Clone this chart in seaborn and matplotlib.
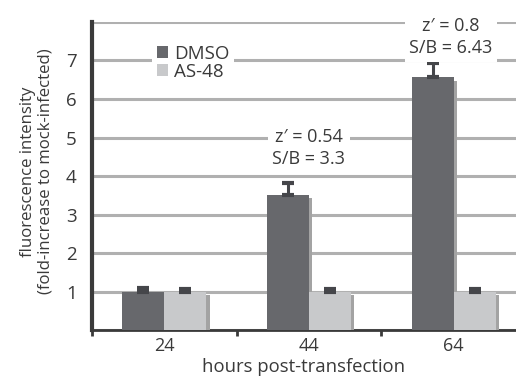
import pandas as pd
import matplotlib.pyplot as plt
import matplotlib.patheffects as pe
import seaborn as sns

# valores
hours = ['24', '44', '64']
dmso = [1.0, 3.5, 6.56]
dmso_err = [0.1, 0.32, 0.38]
as48 = [1.0, 1.0, 1.0]
as48_err = [0.08, 0.08, 0.08]
notes = ['', "z\u2032 = 0.54\nS/B = 3.3", "z\u2032 = 0.8\nS/B = 6.43"]
note_y = [0, 4.73, 7.6]

df = pd.DataFrame({
    'hours': hours * 2,
    'valor': dmso + as48,
    'grupo': ['DMSO'] * 3 + ['AS-48'] * 3,
})

sns.set_style('white')
plt.rcParams['font.family'] = ['Open Sans', 'DejaVu Sans']
cor_txt = '#3a3a3a'

fig = plt.figure(figsize=(5.16, 3.79), dpi=100)
ax = fig.add_axes([0.178, 0.129, 0.822, 0.813])

sns.barplot(data=df, x='hours', y='valor', hue='grupo', order=hours,
            hue_order=['DMSO', 'AS-48'], palette=['#67686c', '#c8c9cb'],
            width=0.58, saturation=1, errorbar=None, ax=ax, zorder=3)

sombra = [pe.SimplePatchShadow(offset=(2.4, -2.2), shadow_rgbFace='#a3a3a3', alpha=1), pe.Normal()]
for p in ax.patches:
    p.set_path_effects(sombra)
    p.set_linewidth(0)

# barras de erro só para cima
n = len(hours)
for i, (vals, errs) in enumerate([(dmso, dmso_err), (as48, as48_err)]):
    xs = [p.get_x() + p.get_width() / 2 for p in ax.patches[i * n:(i + 1) * n]]
    ax.errorbar(xs, vals, yerr=[[0] * n, errs], fmt='none', ecolor='#45464a',
                elinewidth=2.2, capsize=4, capthick=3, zorder=4)

ax.set_ylim(0, 8)
ax.set_xlim(-0.5, 2.43)
ax.set_yticks(range(0, 9))
ax.set_yticklabels([''] + [str(v) for v in range(1, 8)] + [''])
ax.yaxis.grid(True, color='#b0b0b0', linewidth=2.2, zorder=0)
ax.set_axisbelow(True)

ax.set_xticks([0, 1, 2])
ax.set_xticklabels(hours)
ax.set_xticks([-0.5, 0.5, 1.5], minor=True)
ax.tick_params(axis='x', which='major', length=0, labelsize=13, labelcolor=cor_txt, pad=5)
ax.tick_params(axis='x', which='minor', length=4, width=2, color=cor_txt, direction='out', bottom=True)
ax.tick_params(axis='y', length=4, width=2.5, color=cor_txt, labelsize=13.5, labelcolor=cor_txt, pad=7)

for s in ['top', 'right']:
    ax.spines[s].set_visible(False)
ax.spines['left'].set_linewidth(3)
ax.spines['left'].set_color(cor_txt)
ax.spines['bottom'].set_linewidth(2)
ax.spines['bottom'].set_color(cor_txt)

for i, t in enumerate(notes):
    if t:
        ax.text(i - 0.02 if i == 2 else i, note_y[i], t, ha='center', va='center', fontsize=13,
                color=cor_txt, linespacing=1.3, zorder=5,
                bbox=dict(facecolor='white', edgecolor='none', pad=3))

ax.set_xlabel('hours post-transfection', fontsize=13.3, color=cor_txt, labelpad=2)
ax.set_ylabel('fluorescence intensity\n(fold-increase to mock-infected)', fontsize=12.1,
              color=cor_txt, linespacing=1.1)
ax.yaxis.set_label_coords(-0.09, 0.515)

leg = ax.legend(loc='upper left', bbox_to_anchor=(0.142, 0.942), borderaxespad=0,
                frameon=True, fontsize=13.5, handlelength=0.6, handleheight=0.6,
                handletextpad=0.32, borderpad=0.25, labelspacing=0.0, fancybox=False)
leg.get_frame().set_edgecolor('none')
leg.get_frame().set_facecolor('white')
leg.get_frame().set_alpha(1)
for h in leg.legend_handles:
    h.set_path_effects([])
for t in leg.get_texts():
    t.set_color(cor_txt)

fig.savefig('out.png', dpi=100)
